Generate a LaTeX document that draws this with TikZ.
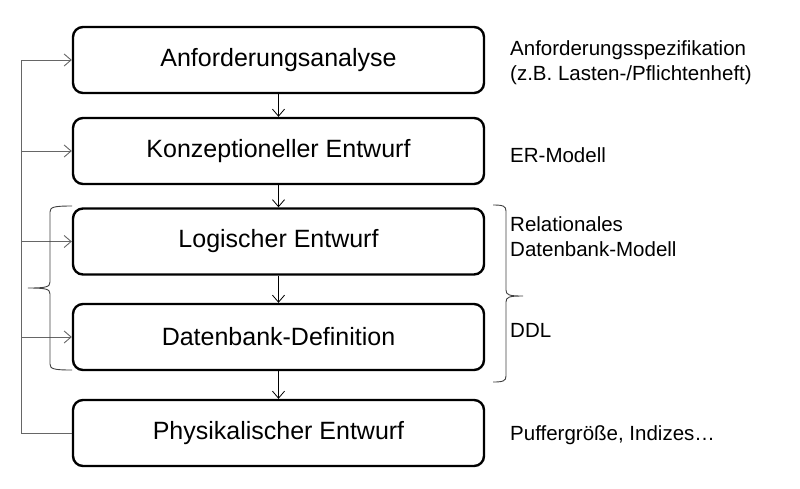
\documentclass[tikz,border=0pt]{standalone}
\usepackage{fontspec}
\setmainfont{Liberation Sans}
\usetikzlibrary{arrows.meta}

\begin{document}
\begin{tikzpicture}[x=1pt, y=-1pt,
    phase/.style={draw, line width=2.4pt, rounded corners=10pt,
        minimum width=411pt, minimum height=66pt,
        font=\fontsize{25}{30}\selectfont},
    result/.style={anchor=west, align=left, inner sep=0pt,
        font=\fontsize{20.5}{25}\selectfont},
    fb/.style={draw=black!60, line width=0.9pt},
    klammer/.style={draw=black!75, line width=0.9pt},
    >={Straight Barb[length=7pt, width=12pt]}]
    \useasboundingbox (0,0) rectangle (800,488);

    \node[phase] (p1) at (278.5,60) {Anforderungsanalyse};
    \node[phase] (p2) at (278.5,151) {Konzeptioneller Entwurf};
    \node[phase] (p3) at (278.5,241.5) {Logischer Entwurf};
    \node[phase] (p4) at (278.5,337) {Datenbank-Definition};
    \node[phase] (p5) at (278.5,433) {Physikalischer Entwurf};

    \coordinate (bus) at (21,60);

    \node[result] (r1) at (510,63) {Anforderungsspezifikation\\(z.B. Lasten-/Pflichtenheft)};
    \node[result] (r2) at (510,155) {ER-Modell};
    \node[result] (r3) at (510,237) {Relationales\\Datenbank-Modell};
    \node[result] (r4) at (510,330) {DDL};
    \node[result] (r5) at (510,435) {Puffergröße, Indizes…};

    % Ablauf
    \draw[->, line width=0.8pt] (p1.south) -- (p2.north);
    \draw[->, line width=0.8pt] (p2.south) -- (p3.north);
    \draw[->, line width=0.8pt] (p3.south) -- (p4.north);
    \draw[->, line width=0.8pt] (p4.south) -- (p5.north);

    % Rueckkopplung
    \draw[fb] (p5.west) -- (p5.west -| bus) -- (bus);
    \foreach \n in {1,...,4}
        \draw[fb, ->] (bus |- p\n.west) -- (p\n.west);

    % Klammern
    \draw[klammer] (72,206) .. controls (54,206) and (50,207) .. (50,212)
        -- (50,282) .. controls (50,287) and (46,288) .. (28,288)
        .. controls (46,288) and (50,289) .. (50,294)
        -- (50,364) .. controls (50,369) and (54,370) .. (72,370);
    \draw[klammer] (493,205) .. controls (503,205) and (506,206) .. (506,211)
        -- (506,290) .. controls (506,295) and (509,296) .. (523,296)
        .. controls (509,296) and (506,297) .. (506,302)
        -- (506,376) .. controls (506,381) and (503,382) .. (493,382);
\end{tikzpicture}
\end{document}
